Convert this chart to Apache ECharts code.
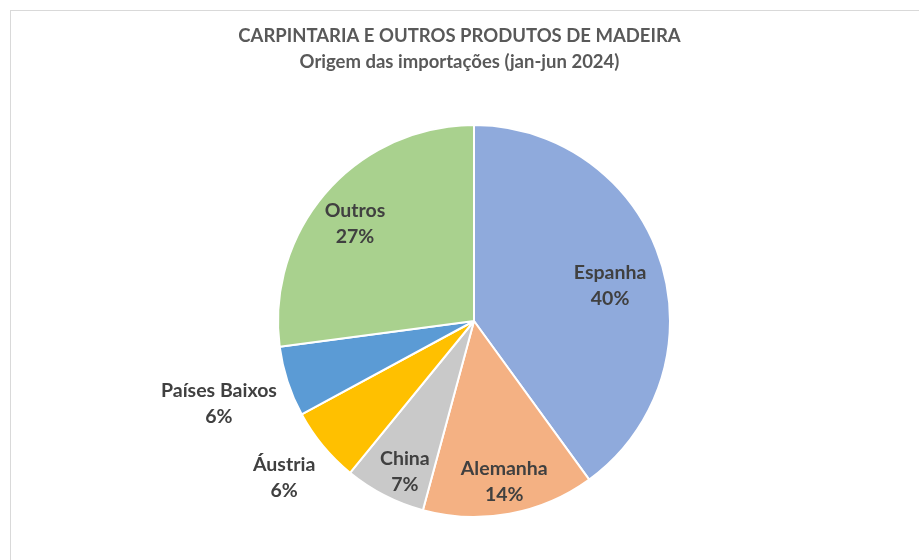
<!DOCTYPE html>
<html>
<head>
<meta charset="utf-8">
<script src="https://cdn.jsdelivr.net/npm/echarts@6/dist/echarts.min.js"></script>
<style>
html,body{margin:0;padding:0;background:#fff;overflow:hidden;}
#frame{position:absolute;left:10px;top:10px;width:1000px;height:1000px;border:1px solid #d9d9d9;box-sizing:border-box;}
#chart{position:absolute;left:0;top:0;width:919px;height:560px;}
</style>
</head>
<body>
<div id="frame"></div>
<div id="chart"></div>
<script>
const titleLines = ['CARPINTARIA E OUTROS PRODUTOS DE MADEIRA', 'Origem das importações (jan-jun 2024)'];
const categories = ['Espanha', 'Alemanha', 'China', 'Áustria', 'Países Baixos', 'Outros'];
const values = [40.0, 14.2, 6.7, 6.2, 5.8, 27.1];
const colors = ['#8FAADC', '#F4B183', '#C9C9C9', '#FFC000', '#5B9BD5', '#A9D18E'];
// label shifts from the default "inside" position (styling only)
const labelShift = [[40,-4],[12,61],[-23,61],[-112,92],[-159,52],[-43,-31]];

const total = values.reduce((a,b)=>a+b,0);
const chart = echarts.init(document.getElementById('chart'));
chart.setOption({
  animation: false,
  title: {
    text: titleLines.join('\n'),
    left: 'center',
    top: 18,
    textStyle: {fontFamily: 'Lato', fontWeight: 'bold', fontSize: 18.5, color: '#595959', lineHeight: 26}
  },
  series: [{
    type: 'pie',
    center: [474, 321],
    radius: [0, 196],
    startAngle: 90,
    clockwise: true,
    avoidLabelOverlap: false,
    itemStyle: {borderColor: '#fff', borderWidth: 2},
    label: {
      position: 'inside',
      fontFamily: 'Lato',
      fontWeight: 'bold',
      fontSize: 19.5,
      lineHeight: 26,
      color: '#404040',
      align: 'center',
      formatter: p => p.name + '\n' + Math.round(p.value / total * 100) + '%'
    },
    labelLine: {show: false},
    labelLayout: p => ({dx: labelShift[p.dataIndex][0], dy: labelShift[p.dataIndex][1]}),
    data: categories.map((c,i)=>({name: c, value: values[i], itemStyle: {color: colors[i]}}))
  }]
});
</script>
</body>
</html>
